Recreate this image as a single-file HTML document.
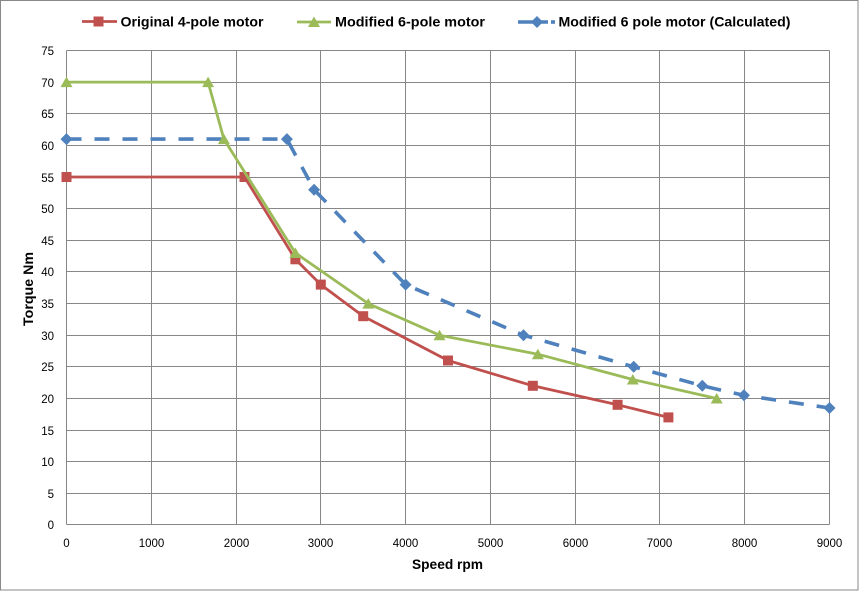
<!DOCTYPE html>
<html>
<head>
<meta charset="utf-8">
<style>
  html,body{margin:0;padding:0;background:#fff;}
  svg{display:block;}
  text{font-family:"Liberation Sans",Arial,sans-serif;fill:#000;}
  .tk{font-size:11.5px;}
  .lg{font-size:14px;font-weight:bold;}
  .at{font-size:14px;font-weight:bold;}
</style>
</head>
<body>
<svg width="859" height="591" viewBox="0 0 859 591" xmlns="http://www.w3.org/2000/svg">
  <rect x="0" y="0" width="859" height="591" fill="#fff"/>
  <rect x="0.5" y="0.5" width="857.5" height="589.5" fill="none" stroke="#888" stroke-width="1"/>

  <!-- gridlines horizontal -->
  <g stroke="#878787" stroke-width="1" fill="none">
    <line x1="66.5" y1="50.5" x2="829.5" y2="50.5"/>
    <line x1="66.5" y1="82.5" x2="829.5" y2="82.5"/>
    <line x1="66.5" y1="113.5" x2="829.5" y2="113.5"/>
    <line x1="66.5" y1="145.5" x2="829.5" y2="145.5"/>
    <line x1="66.5" y1="177.5" x2="829.5" y2="177.5"/>
    <line x1="66.5" y1="208.5" x2="829.5" y2="208.5"/>
    <line x1="66.5" y1="240.5" x2="829.5" y2="240.5"/>
    <line x1="66.5" y1="271.5" x2="829.5" y2="271.5"/>
    <line x1="66.5" y1="303.5" x2="829.5" y2="303.5"/>
    <line x1="66.5" y1="335.5" x2="829.5" y2="335.5"/>
    <line x1="66.5" y1="366.5" x2="829.5" y2="366.5"/>
    <line x1="66.5" y1="398.5" x2="829.5" y2="398.5"/>
    <line x1="66.5" y1="430.5" x2="829.5" y2="430.5"/>
    <line x1="66.5" y1="461.5" x2="829.5" y2="461.5"/>
    <line x1="66.5" y1="493.5" x2="829.5" y2="493.5"/>
    <line x1="66.5" y1="524.5" x2="829.5" y2="524.5"/>
    <!-- vertical -->
    <line x1="66.5" y1="50.5" x2="66.5" y2="524.5"/>
    <line x1="151.5" y1="50.5" x2="151.5" y2="524.5"/>
    <line x1="236.5" y1="50.5" x2="236.5" y2="524.5"/>
    <line x1="320.5" y1="50.5" x2="320.5" y2="524.5"/>
    <line x1="405.5" y1="50.5" x2="405.5" y2="524.5"/>
    <line x1="490.5" y1="50.5" x2="490.5" y2="524.5"/>
    <line x1="575.5" y1="50.5" x2="575.5" y2="524.5"/>
    <line x1="659.5" y1="50.5" x2="659.5" y2="524.5"/>
    <line x1="744.5" y1="50.5" x2="744.5" y2="524.5"/>
    <line x1="829.5" y1="50.5" x2="829.5" y2="524.5"/>
  </g>

  <!-- Y tick labels -->
  <g class="tk" text-anchor="end">
    <text x="54" y="55">75</text>
    <text x="54" y="87">70</text>
    <text x="54" y="118">65</text>
    <text x="54" y="150">60</text>
    <text x="54" y="182">55</text>
    <text x="54" y="213">50</text>
    <text x="54" y="245">45</text>
    <text x="54" y="276">40</text>
    <text x="54" y="308">35</text>
    <text x="54" y="340">30</text>
    <text x="54" y="371">25</text>
    <text x="54" y="403">20</text>
    <text x="54" y="435">15</text>
    <text x="54" y="466">10</text>
    <text x="54" y="498">5</text>
    <text x="54" y="529">0</text>
  </g>
  <!-- X tick labels -->
  <g class="tk" text-anchor="middle">
    <text x="66.5" y="547">0</text>
    <text x="151.5" y="547">1000</text>
    <text x="236.5" y="547">2000</text>
    <text x="320.5" y="547">3000</text>
    <text x="405.5" y="547">4000</text>
    <text x="490.5" y="547">5000</text>
    <text x="575.5" y="547">6000</text>
    <text x="659.5" y="547">7000</text>
    <text x="744.5" y="547">8000</text>
    <text x="829.5" y="547">9000</text>
  </g>

  <!-- axis titles -->
  <text class="at" x="412" y="569" textLength="71" lengthAdjust="spacingAndGlyphs">Speed rpm</text>
  <text class="at" transform="translate(33,326) rotate(-90)" x="0" y="0" textLength="74" lengthAdjust="spacingAndGlyphs">Torque Nm</text>

  <!-- Blue series (calculated) -->
  <polyline fill="none" stroke="#4F81BD" stroke-width="3.6" stroke-dasharray="15,13" stroke-linejoin="round"
    points="66.5,139.1 286.9,139.1 314.1,189.7 405.6,284.6 523.5,335.2 633.7,366.8 702.3,385.8 743.9,395.3 829.5,408.0"/>
  <g fill="#4F81BD">
    <polygon points="66.5,133.1 72.5,139.1 66.5,145.1 60.5,139.1"/>
    <polygon points="286.9,133.1 292.9,139.1 286.9,145.1 280.9,139.1"/>
    <polygon points="314.1,183.7 320.1,189.7 314.1,195.7 308.1,189.7"/>
    <polygon points="405.6,278.6 411.6,284.6 405.6,290.6 399.6,284.6"/>
    <polygon points="523.5,329.2 529.5,335.2 523.5,341.2 517.5,335.2"/>
    <polygon points="633.7,360.8 639.7,366.8 633.7,372.8 627.7,366.8"/>
    <polygon points="702.3,379.8 708.3,385.8 702.3,391.8 696.3,385.8"/>
    <polygon points="743.9,389.3 749.9,395.3 743.9,401.3 737.9,395.3"/>
    <polygon points="829.5,402.0 835.5,408.0 829.5,414.0 823.5,408.0"/>
  </g>

  <!-- Red series -->
  <polyline fill="none" stroke="#C0504D" stroke-width="2.8" stroke-linejoin="round"
    points="66.5,177.0 244.5,177.0 295.4,259.3 320.8,284.6 363.2,316.2 448.0,360.5 532.8,385.8 617.6,404.8 668.4,417.4"/>
  <g fill="#C0504D">
    <rect x="61.5" y="172" width="10" height="10"/>
    <rect x="239.5" y="172" width="10" height="10"/>
    <rect x="290.4" y="254.3" width="10" height="10"/>
    <rect x="315.8" y="279.6" width="10" height="10"/>
    <rect x="358.2" y="311.2" width="10" height="10"/>
    <rect x="443" y="355.5" width="10" height="10"/>
    <rect x="527.8" y="380.8" width="10" height="10"/>
    <rect x="612.6" y="399.8" width="10" height="10"/>
    <rect x="663.4" y="412.4" width="10" height="10"/>
  </g>

  <!-- Green series -->
  <polyline fill="none" stroke="#9BBB59" stroke-width="2.8" stroke-linejoin="round"
    points="66.5,82.1 208.1,82.1 223.9,139.1 295.4,253.0 368.3,303.6 439.5,335.2 537.9,354.2 632.8,379.5 716.7,398.5"/>
  <g fill="#9BBB59">
    <polygon points="66.5,76.6 72.5,87.1 60.5,87.1"/>
    <polygon points="208.1,76.6 214.1,87.1 202.1,87.1"/>
    <polygon points="223.9,133.6 229.9,144.1 217.9,144.1"/>
    <polygon points="295.4,247.5 301.4,258 289.4,258"/>
    <polygon points="368.3,298.1 374.3,308.6 362.3,308.6"/>
    <polygon points="439.5,329.7 445.5,340.2 433.5,340.2"/>
    <polygon points="537.9,348.7 543.9,359.2 531.9,359.2"/>
    <polygon points="632.8,374 638.8,384.5 626.8,384.5"/>
    <polygon points="716.7,393 722.7,403.5 710.7,403.5"/>
  </g>

  <!-- Legend -->
  <line x1="82" y1="21.5" x2="117" y2="21.5" stroke="#C0504D" stroke-width="2.8"/>
  <rect x="93.5" y="16.5" width="10" height="10" fill="#C0504D"/>
  <text class="lg" x="120.5" y="26.5" textLength="143" lengthAdjust="spacingAndGlyphs">Original 4-pole motor</text>

  <line x1="297" y1="22" x2="331" y2="22" stroke="#9BBB59" stroke-width="2.8"/>
  <polygon points="314,16.5 320,27 308,27" fill="#9BBB59"/>
  <text class="lg" x="335" y="26.5" textLength="150" lengthAdjust="spacingAndGlyphs">Modified 6-pole motor</text>

  <line x1="518" y1="22" x2="548" y2="22" stroke="#4F81BD" stroke-width="3.6"/>
  <line x1="551" y1="22" x2="555" y2="22" stroke="#4F81BD" stroke-width="3.6"/>
  <polygon points="537,16 543,22 537,28 531,22" fill="#4F81BD"/>
  <text class="lg" x="558.5" y="26.5" textLength="232" lengthAdjust="spacingAndGlyphs">Modified 6 pole motor (Calculated)</text>
</svg>
</body>
</html>
